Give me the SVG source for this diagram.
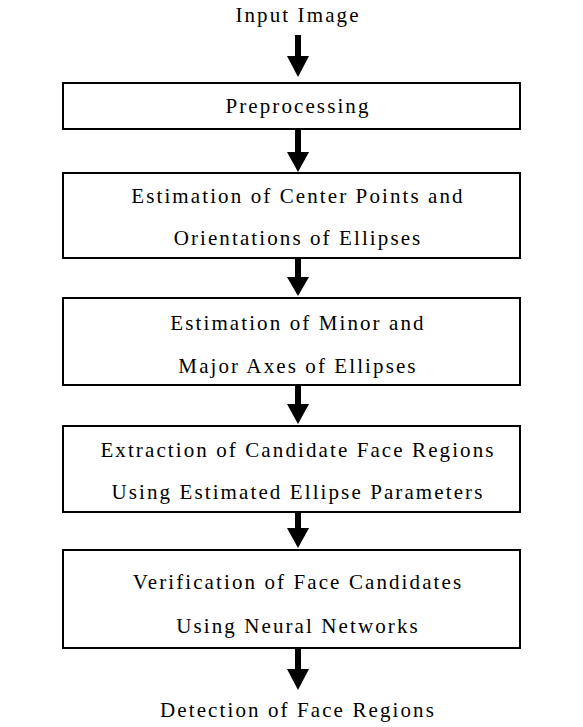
<svg xmlns="http://www.w3.org/2000/svg" width="583" height="727" viewBox="0 0 583 727">
<style>
.t{font-family:"Liberation Serif","Times New Roman",serif;font-size:21px;letter-spacing:2.1px;fill:#000;text-anchor:middle}
.b{fill:#fff;stroke:#000;stroke-width:2}
.a{fill:#000}
</style>
<rect width="583" height="727" fill="#fff"/>
<g id="input"><text class="t" x="298" y="22">Input Image</text></g>
<g id="preprocessing"><rect class="b" x="63" y="83" width="457" height="46"/><text class="t" x="298" y="113">Preprocessing</text></g>
<g id="centers"><rect class="b" x="63" y="173" width="457" height="85"/><text class="t" x="298" y="203">Estimation of Center Points and</text><text class="t" x="298" y="245">Orientations of Ellipses</text></g>
<g id="axes"><rect class="b" x="63" y="298" width="457" height="87"/><text class="t" x="298" y="330">Estimation of Minor and</text><text class="t" x="298" y="373">Major Axes of Ellipses</text></g>
<g id="extraction"><rect class="b" x="63" y="426" width="457" height="86"/><text class="t" x="298" y="457">Extraction of Candidate Face Regions</text><text class="t" x="298" y="499">Using Estimated Ellipse Parameters</text></g>
<g id="verification"><rect class="b" x="63" y="550" width="457" height="98"/><text class="t" x="298" y="589">Verification of Face Candidates</text><text class="t" x="298" y="633">Using Neural Networks</text></g>
<g id="detection"><text class="t" x="298" y="717">Detection of Face Regions</text></g>
<g id="connectors">
<rect class="a" x="295" y="35" width="6" height="22"/><polygon class="a" points="287,56 309,56 298,77"/>
<rect class="a" x="295" y="129" width="6" height="24"/><polygon class="a" points="287,152 309,152 298,172"/>
<rect class="a" x="295" y="258" width="6" height="20"/><polygon class="a" points="287,277 309,277 298,296"/>
<rect class="a" x="295" y="385" width="6" height="20"/><polygon class="a" points="287,404 309,404 298,424"/>
<rect class="a" x="295" y="512" width="6" height="17"/><polygon class="a" points="287,528 309,528 298,548"/>
<rect class="a" x="295" y="648" width="6" height="22"/><polygon class="a" points="287,669 309,669 298,690"/>
</g>
</svg>
